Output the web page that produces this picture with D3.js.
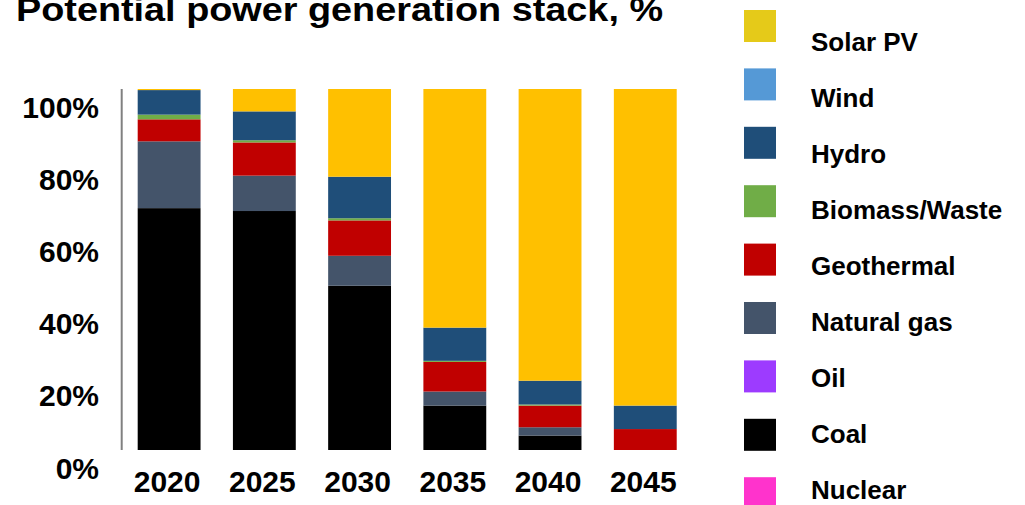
<!DOCTYPE html>
<html>
<head>
<meta charset="utf-8">
<script src="https://cdn.jsdelivr.net/npm/d3@7"></script>
<style>
  html, body { margin: 0; padding: 0; background: #fff; }
  svg { display: block; }
  text { font-family: "Liberation Sans", Arial, sans-serif; font-weight: bold; fill: #000; }
</style>
</head>
<body>
<svg id="chart" width="1025" height="505"></svg>
<script>
// ---- data ----
const years = ["2020", "2025", "2030", "2035", "2040", "2045"];
const seriesNames = ["Nuclear", "Coal", "Oil", "Natural gas", "Geothermal", "Biomass/Waste", "Hydro", "Wind", "Solar PV"];
const nuclear   = [0, 0, 0, 0, 0, 0];
const coal      = [67.0, 66.2, 45.5, 12.3, 4.0, 0];
const oil       = [0, 0, 0, 0, 0, 0];
const naturalGas= [18.5, 9.8, 8.3, 3.9, 2.3, 0];
const geothermal= [6.1, 9.2, 9.8, 8.2, 6.0, 5.8];
const biomass   = [1.3, 0.6, 0.6, 0.3, 0.3, 0];
const hydro     = [6.8, 8.0, 11.5, 9.2, 6.6, 6.5];
const wind      = [0, 0, 0, 0, 0, 0];
const solarPV   = [0.3, 6.2, 24.3, 66.1, 80.8, 87.7];
const yTicks    = [0, 20, 40, 60, 80, 100];
const legendOrder = ["Solar PV", "Wind", "Hydro", "Biomass/Waste", "Geothermal", "Natural gas", "Oil", "Coal", "Nuclear"];
const title = "Potential power generation stack, %";

// ---- styles ----
const barColors = {
  "Nuclear": "#FF33CC", "Coal": "#000000", "Oil": "#9D3BFF", "Natural gas": "#44546A",
  "Geothermal": "#C00000", "Biomass/Waste": "#70AD47", "Hydro": "#1F4E79",
  "Wind": "#5599D6", "Solar PV": "#FFC000"
};
const legendColors = Object.assign({}, barColors, { "Solar PV": "#E5CA19" });

const seriesValues = [nuclear, coal, oil, naturalGas, geothermal, biomass, hydro, wind, solarPV];
const table = years.map((yr, i) => {
  const row = { year: yr };
  seriesNames.forEach((s, k) => row[s] = seriesValues[k][i]);
  return row;
});

const svg = d3.select("#chart");

const x = d3.scaleBand().domain(years).range([121.5, 692.9]).paddingInner(0.34).paddingOuter(0.17);
const y = d3.scaleLinear().domain([0, 100]).range([450, 89]);

const stack = d3.stack().keys(seriesNames);
const layers = stack(table);

svg.append("g").selectAll("g")
  .data(layers)
  .join("g")
  .attr("fill", d => barColors[d.key])
  .selectAll("rect")
  .data(d => d)
  .join("rect")
  .attr("x", d => x(d.data.year))
  .attr("width", x.bandwidth())
  .attr("y", d => y(d[1]))
  .attr("height", d => Math.max(0, y(d[0]) - y(d[1])));

// vertical axis line
svg.append("line")
  .attr("x1", 121.7).attr("x2", 121.7)
  .attr("y1", y(100)).attr("y2", y(0))
  .attr("stroke", "#808080").attr("stroke-width", 2);

// y tick labels (offset below their gridline values as in the reference)
const yAxis = svg.append("g")
  .attr("transform", "translate(99,28)")
  .call(d3.axisLeft(y).tickValues(yTicks).tickFormat(d => d + "%").tickSize(0).tickPadding(0));
yAxis.select(".domain").remove();
yAxis.selectAll("text")
  .attr("dy", 0).attr("x", 0)
  .style("font-family", "'Liberation Sans', Arial, sans-serif")
  .style("font-weight", "bold").style("font-size", "30px").style("fill", "#000");

// x labels
const xAxis = svg.append("g")
  .attr("transform", "translate(-2,492)")
  .call(d3.axisBottom(x).tickSize(0).tickPadding(0));
xAxis.select(".domain").remove();
xAxis.selectAll("text")
  .attr("dy", 0).attr("y", 0)
  .style("font-family", "'Liberation Sans', Arial, sans-serif")
  .style("font-weight", "bold").style("font-size", "30px").style("fill", "#000");

// title
svg.append("text")
  .attr("x", 16).attr("y", 21)
  .attr("textLength", 647).attr("lengthAdjust", "spacingAndGlyphs")
  .style("font-size", "34px")
  .text(title);

// legend
const legend = svg.append("g");
legendOrder.forEach((name, i) => {
  legend.append("rect")
    .attr("x", 744).attr("y", 10 + i * 58.4)
    .attr("width", 32).attr("height", 32)
    .attr("fill", legendColors[name]);
  legend.append("text")
    .attr("x", 811).attr("y", 51 + i * 56)
    .style("font-size", "26px")
    .text(name);
});
</script>
</body>
</html>
